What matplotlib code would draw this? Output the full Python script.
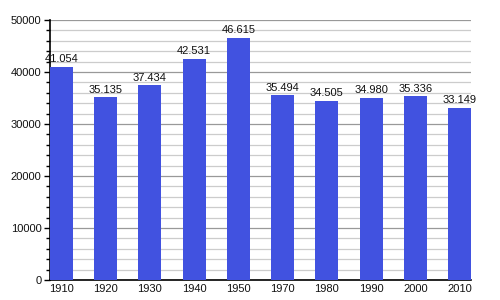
import matplotlib.pyplot as plt
from matplotlib.ticker import MultipleLocator

years = ["1910", "1920", "1930", "1940", "1950", "1970", "1980", "1990", "2000", "2010"]
population = [41054, 35135, 37434, 42531, 46615, 35494, 34505, 34980, 35336, 33149]
labels = ["41.054", "35.135", "37.434", "42.531", "46.615", "35.494", "34.505", "34.980", "35.336", "33.149"]


def main():
    plt.switch_backend('Agg')
    plt.rcParams["font.family"] = ["Liberation Sans", "DejaVu Sans"]
    fig = plt.figure(figsize=(5, 3), dpi=100)
    ax = fig.add_axes([0.1, 0.0667, 0.842, 0.8667])

    x = list(range(len(years)))
    # gap between 1950 and 1970 keeps the same spacing in the original
    bars = ax.bar(x, population, width=0.52, color="#4152e0", zorder=3)

    for rect, text in zip(bars, labels):
        ax.text(rect.get_x() + rect.get_width() / 2, rect.get_height() + 500, text,
                ha="center", va="bottom", fontsize=8, color="#111111")

    ax.set_xlim(-0.26, len(years) - 1 + 0.26)
    ax.set_ylim(0, 50000)
    ax.set_xticks(x)
    ax.set_xticklabels(years)
    ax.yaxis.set_major_locator(MultipleLocator(10000))
    ax.yaxis.set_minor_locator(MultipleLocator(2000))

    # Gridlines
    ax.grid(which="major", axis="y", color="#999999", linewidth=0.9, zorder=0)
    ax.grid(which="minor", axis="y", color="#cccccc", linewidth=0.9, zorder=0)

    for side in ["top", "right"]:
        ax.spines[side].set_visible(False)
    ax.spines["left"].set_linewidth(1.2)
    ax.spines["bottom"].set_linewidth(1.2)

    ax.tick_params(axis="y", which="major", length=4, width=1, labelsize=8, pad=2,
                   labelcolor="#111111")
    ax.tick_params(axis="y", which="minor", length=3, width=1)
    ax.tick_params(axis="x", length=0, labelsize=8, pad=3, labelcolor="#111111")

    fig.savefig("out.png")


if __name__ == "__main__":
    main()
